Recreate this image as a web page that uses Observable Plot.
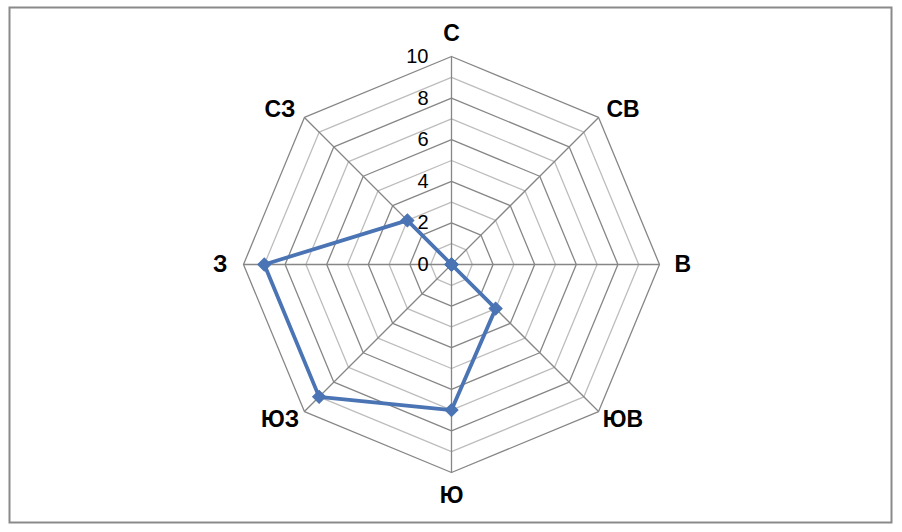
<!DOCTYPE html>
<html>
<head>
<meta charset="utf-8">
<script src="https://cdn.jsdelivr.net/npm/d3@7"></script>
<script src="https://cdn.jsdelivr.net/npm/@observablehq/plot@0.6"></script>
<style>
  html, body { margin: 0; padding: 0; background: #fff; }
  #chart svg { display: block; }
</style>
</head>
<body>
<div id="chart"></div>
<script>
// Data
const directions = ["С", "СВ", "В", "ЮВ", "Ю", "ЮЗ", "З", "СЗ"];
const values = [0, 0, 0, 3, 7, 9, 9, 3];
const tickValues = [0, 2, 4, 6, 8, 10];
const maxValue = 10;

// Helpers (polar -> cartesian in data units; С at top, clockwise)
const angleOf = i => Math.PI / 2 - i * Math.PI / 4;
const px = (i, r) => r * Math.cos(angleOf(i));
const py = (i, r) => r * Math.sin(angleOf(i));

// Grid rings
const rings = [];
for (let k = 1; k <= maxValue; k++) {
  for (let i = 0; i <= directions.length; i++) {
    const j = i % directions.length;
    rings.push({ k, x: px(j, k), y: py(j, k) });
  }
}
const spokes = directions.map((d, i) => ({ x1: 0, y1: 0, x2: px(i, maxValue), y2: py(i, maxValue) }));

const series = directions.map((d, i) => ({ d, x: px(i, values[i]), y: py(i, values[i]) }));
const seriesClosed = [...series, series[0]];

// direction label placement
const labelR = 11.12;
const labels = directions.map((d, i) => {
  let a = angleOf(i);
  if (i % 2 === 1) {
    const c = Math.cos(a), s = Math.sin(a);
    a = Math.atan2(s, c) + (Math.sign(c) * Math.sign(s) > 0 ? -0.05 : 0.05);
  }
  return { d, x: labelR * Math.cos(a), y: labelR * Math.sin(a) };
});

const W = 902, H = 532, cx = 451, cy = 264, unit = 20.8;

const chart = Plot.plot({
  width: W,
  height: H,
  margin: 0,
  x: { domain: [-cx / unit, (W - cx) / unit], range: [0, W], axis: null },
  y: { domain: [-(H - cy) / unit, cy / unit], range: [H, 0], axis: null },
  style: { fontFamily: "'Liberation Sans', Arial, sans-serif", background: "#fff" },
  marks: [
    Plot.frame({ stroke: "#8a8a8a", strokeWidth: 2, insetLeft: 9, insetTop: 7, insetRight: 11, insetBottom: 10 }),
    Plot.line(rings.filter(r => r.k % 2 === 1), { x: "x", y: "y", z: "k", stroke: "#bdbdbd", strokeWidth: 1.3, curve: "linear" }),
    Plot.line(rings.filter(r => r.k % 2 === 0), { x: "x", y: "y", z: "k", stroke: "#868686", strokeWidth: 1.3, curve: "linear" }),
    Plot.link(spokes, { x1: "x1", y1: "y1", x2: "x2", y2: "y2", stroke: "#868686", strokeWidth: 1.3 }),
    Plot.text(tickValues, { x: () => 0, y: d => d, text: d => String(d), textAnchor: "end", dx: -23, fontSize: 20, fill: "#000" }),
    Plot.line(seriesClosed, { x: "x", y: "y", stroke: "#4a74b4", strokeWidth: 3.8 }),
    Plot.dot(series, { x: "x", y: "y", symbol: "square", rotate: 45, r: 5.2, fill: "#4a74b4", stroke: "#4a74b4", strokeWidth: 1 }),
    Plot.text(labels, { x: "x", y: "y", text: "d", fontSize: 23, fontWeight: "bold", fill: "#000" })
  ]
});
document.getElementById("chart").appendChild(chart);
</script>
</body>
</html>
